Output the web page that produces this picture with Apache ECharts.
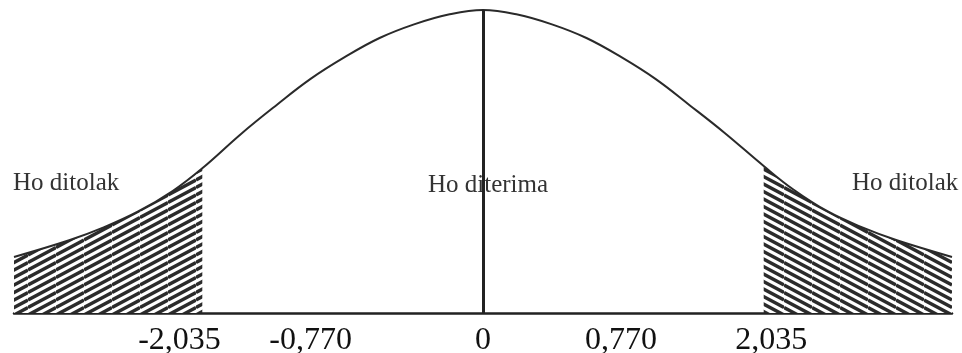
<!DOCTYPE html>
<html>
<head>
<meta charset="utf-8">
<title>Kurva uji t</title>
<script src="https://cdn.jsdelivr.net/npm/echarts@6/dist/echarts.min.js"></script>
<style>
  html, body { margin: 0; padding: 0; background: #fff; }
  #chart { width: 962px; height: 353px; }
</style>
</head>
<body>
<div id="chart"></div>
<script>
// Bell curve sampled along the t axis
const xValues = [-3.4, -3.0, -2.75, -2.5, -2.25, -2.035, -1.75, -1.5, -1.25, -1.0, -0.75, -0.5, -0.25,
                 0, 0.25, 0.5, 0.75, 1.0, 1.25, 1.5, 1.75, 2.035, 2.25, 2.5, 2.75, 3.0, 3.4];
const densityValues = [0.074, 0.096, 0.113, 0.134, 0.161, 0.191, 0.237, 0.274, 0.309, 0.338, 0.363, 0.381, 0.394,
                       0.400, 0.394, 0.381, 0.363, 0.338, 0.309, 0.274, 0.238, 0.194, 0.163, 0.134, 0.113, 0.096, 0.074];

// Critical value of the two-tailed test
const criticalValue = 2.035;

// Axis labels and where they sit
const tickPositions = [-2.2, -1.25, 0, 1.0, 2.09];
const tickLabels = ['-2,035', '-0,770', '0', '0,770', '2,035'];

// Region captions
const regionLabels = ['Ho ditolak', 'Ho diterima', 'Ho ditolak'];

const curve = xValues.map((x, i) => [x, densityValues[i]]);
const leftTail = curve.filter(p => p[0] <= -criticalValue);
const rightTail = curve.filter(p => p[0] >= criticalValue);

// Diagonal hatching tile; dir = 1 rises to the right, -1 falls to the right
function hatch(dir) {
  const w = 28, h = 15, step = 7.5;
  const c = document.createElement('canvas');
  c.width = w; c.height = h;
  const g = c.getContext('2d');
  g.fillStyle = '#ffffff';
  g.fillRect(0, 0, w, h);
  g.strokeStyle = '#2b2b2b';
  g.lineWidth = 3.4;
  for (let k = -3; k <= 5; k++) {
    const y0 = k * step;
    g.beginPath();
    if (dir > 0) { g.moveTo(0, y0); g.lineTo(w, y0 - h); }
    else { g.moveTo(0, y0 - h); g.lineTo(w, y0); }
    g.stroke();
  }
  return c;
}

const chart = echarts.init(document.getElementById('chart'), null, { renderer: 'canvas' });

const serif = '"Liberation Serif", "Times New Roman", serif';

chart.setOption({
  animation: false,
  backgroundColor: '#ffffff',
  grid: { left: 14, right: 10, top: 10, bottom: 40, containLabel: false, outerBoundsMode: 'none' },
  xAxis: {
    type: 'value',
    min: -3.4,
    max: 3.4,
    axisLine: { show: true, onZero: false, lineStyle: { color: '#222', width: 2.5 } },
    axisTick: { show: false },
    splitLine: { show: false },
    axisLabel: {
      customValues: tickPositions,
      margin: 12,
      color: '#111',
      fontFamily: serif,
      fontSize: 32,
      formatter: function (v) {
        let best = 0;
        tickPositions.forEach((p, i) => { if (Math.abs(p - v) < Math.abs(tickPositions[best] - v)) best = i; });
        return tickLabels[best];
      }
    }
  },
  yAxis: {
    type: 'value',
    min: 0,
    max: 0.4,
    show: false
  },
  series: [
    {
      name: 'leftTail',
      type: 'line',
      data: leftTail,
      smooth: 0.4,
      symbol: 'none',
      lineStyle: { width: 0 },
      areaStyle: { color: { image: hatch(1), repeat: 'repeat' }, opacity: 1 },
      silent: true,
      z: 1
    },
    {
      name: 'rightTail',
      type: 'line',
      data: rightTail,
      smooth: 0.4,
      symbol: 'none',
      lineStyle: { width: 0 },
      areaStyle: { color: { image: hatch(-1), repeat: 'repeat' }, opacity: 1 },
      silent: true,
      z: 1
    },
    {
      name: 'curve',
      type: 'line',
      data: curve,
      smooth: 0.4,
      symbol: 'none',
      lineStyle: { color: '#2a2a2a', width: 2 },
      silent: true,
      z: 3,
      markLine: {
        silent: true,
        symbol: 'none',
        label: { show: false },
        lineStyle: { color: '#222', width: 3, type: 'solid' },
        data: [{ xAxis: 0 }]
      }
    }
  ],
  graphic: [
    {
      type: 'text', left: 13, top: 171, z: 0,
      style: { text: regionLabels[0], font: '25px ' + serif, fill: '#333' }
    },
    {
      type: 'text', left: 428, top: 173, z: 0,
      style: { text: regionLabels[1], font: '25px ' + serif, fill: '#333' }
    },
    {
      type: 'text', left: 852, top: 171, z: 0,
      style: { text: regionLabels[2], font: '25px ' + serif, fill: '#333' }
    }
  ]
});
</script>
</body>
</html>
